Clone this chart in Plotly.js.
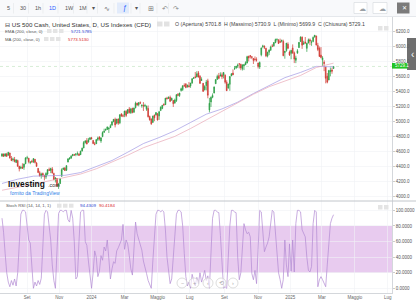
<!DOCTYPE html>
<html><head><meta charset="utf-8">
<script src="https://cdn.plot.ly/plotly-3.0.1.min.js"></script>
<style>html,body{margin:0;padding:0;background:#fff;overflow:hidden}#chart{width:416px;height:300px}</style>
</head><body><div id="chart"></div>
<script>
// ---- data (2-trading-day candles, US 500 Cash, Jul 2023 - Mar 2025) ----
const barOpen = [
4540,4566,4540,4568,4550,4579,4506,4492,4493,4455,
4479,4405,4378,4395,4390,4437,4515,4511,4452,4471,
4464,4497,4446,4375,4318,4276,4308,4282,4260,4300,
4360,4348,4368,4307,4220,4240,4140,4173,4270,4362,
4380,4350,4460,4500,4511,4542,4556,4560,4569,4565,
4557,4606,4647,4719,4743,4725,4758,4782,4745,4698,
4703,4759,4792,4739,4797,4856,4886,4892,4899,4916,
4950,4995,5026,4976,5031,4980,5100,5074,5085,5132,
5108,5164,5115,5175,5120,5181,5242,5220,5248,5205,
5211,5205,5160,5171,5064,5032,4987,5084,5085,5100,
5073,5143,5172,5226,5222,5310,5305,5319,5281,5278,
5243,5276,5358,5343,5410,5423,5477,5499,5461,5473,
5471,5507,5572,5591,5590,5644,5599,5543,5505,5419,
5476,5538,5152,5257,5319,5376,5500,5557,5605,5602,
5618,5612,5612,5520,5442,5492,5603,5641,5702,5711,
5733,5764,5758,5698,5737,5751,5775,5866,5875,5857,
5834,5826,5819,5775,5723,5884,5990,5998,5970,5867,
5919,5944,6000,6003,6044,6089,6083,6060,6063,6062,
5913,5940,6025,5920,5903,5975,5910,5810,5905,5980,
6060,6118,6026,6054,5970,6040,6083,6050,6062,6122,
6135,6009,5970,5881,5817,5785,5720,5600,5550,5660,
5682,5701.8];
const barHigh = [
4578,4572,4580,4582,4594,4584,4540,4520,4527,4492,
4491,4407,4411,4443,4440,4521,4542,4514,4473,4490,
4511,4498,4461,4381,4342,4318,4320,4290,4324,4366,
4386,4384,4393,4318,4260,4247,4183,4245,4376,4386,
4393,4418,4506,4521,4550,4568,4568,4575,4600,4580,
4610,4651,4739,4747,4778,4780,4790,4794,4754,4726,
4765,4798,4802,4785,4868,4903,4906,4932,4926,4962,
5000,5030,5049,5032,5039,5094,5104,5095,5140,5149,
5160,5190,5180,5179,5182,5262,5246,5257,5265,5228,
5256,5233,5211,5211,5077,5039,5075,5089,5123,5110,
5139,5200,5216,5239,5311,5326,5329,5342,5315,5280,
5302,5362,5376,5380,5448,5477,5505,5501,5490,5523,
5510,5570,5590,5655,5666,5669,5614,5585,5508,5480,
5550,5566,5312,5331,5371,5465,5563,5620,5643,5651,
5649,5656,5625,5546,5500,5600,5637,5690,5734,5735,
5767,5768,5765,5753,5762,5797,5871,5870,5878,5867,
5842,5862,5850,5779,5795,5983,6017,6009,5978,5925,
5955,6005,6026,6053,6099,6099,6088,6099,6086,6085,
5936,6040,6050,5941,5950,6022,5928,5872,5960,6052,
6129,6128,6070,6120,6042,6100,6101,6077,6127,6147,
6136,6043,5994,5987,5866,5812,5722,5642,5684,5715,
5712,5730.9];
const barLow = [
4527,4527,4531,4527,4545,4505,4474,4466,4455,4448,
4396,4335,4365,4368,4356,4432,4496,4442,4431,4450,
4446,4440,4399,4316,4268,4239,4260,4216,4235,4283,
4341,4312,4307,4220,4188,4131,4103,4168,4266,4355,
4340,4341,4455,4491,4505,4538,4540,4537,4546,4540,
4553,4600,4643,4705,4697,4716,4755,4759,4697,4682,
4699,4739,4745,4714,4790,4845,4871,4888,4845,4913,
4941,4989,4920,4961,4953,4963,5061,5055,5056,5057,
5098,5104,5098,5107,5118,5172,5203,5199,5229,5181,
5138,5189,5139,5052,5008,4953,4978,5002,5077,5011,
5019,5141,5161,5204,5218,5288,5298,5256,5276,5191,
5235,5257,5333,5325,5395,5403,5457,5441,5447,5451,
5445,5506,5563,5571,5584,5582,5497,5540,5390,5410,
5411,5306,5119,5191,5307,5373,5498,5556,5560,5598,
5561,5570,5500,5402,5434,5406,5602,5615,5682,5694,
5708,5703,5680,5675,5681,5752,5770,5796,5834,5826,
5762,5796,5793,5702,5696,5864,5971,5960,5853,5850,
5880,5940,5985,5991,6040,6061,6027,6044,6048,5865,
5832,5925,5960,5868,5825,5896,5774,5773,5902,5975,
6058,5962,6014,6030,5923,6036,6012,6003,6050,6111,
6008,5933,5858,5837,5733,5667,5505,5505,5546,5598,
5632,5699.9];
const barClose = [
4565,4536,4567,4537,4589,4513,4478,4499,4468,4489,
4404,4370,4388,4376,4433,4515,4516,4465,4457,4462,
4505,4454,4402,4320,4274,4300,4288,4263,4308,4358,
4349,4373,4314,4224,4248,4137,4166,4237,4358,4378,
4347,4411,4502,4514,4538,4559,4555,4568,4569,4549,
4604,4644,4719,4741,4698,4755,4781,4770,4705,4697,
4757,4780,4766,4781,4851,4869,4891,4925,4906,4943,
4995,5027,4953,5030,4976,5088,5070,5070,5137,5079,
5157,5117,5165,5117,5178,5241,5218,5248,5243,5211,
5204,5209,5199,5061,5022,4967,5070,5048,5116,5018,
5128,5187,5214,5221,5308,5303,5321,5267,5306,5235,
5283,5354,5347,5375,5434,5473,5473,5448,5477,5460,
5509,5567,5577,5584,5631,5589,5505,5555,5399,5464,
5522,5347,5240,5319,5344,5455,5554,5597,5571,5616,
5592,5648,5520,5408,5496,5596,5633,5618,5703,5732,
5745,5762,5709,5751,5751,5780,5859,5843,5864,5851,
5809,5823,5813,5728,5782,5973,6001,5985,5870,5917,
5948,5987,5999,6047,6086,6090,6034,6051,6074,5872,
5930,6040,5971,5882,5942,5909,5827,5842,5937,6049,
6119,6012,6039,6041,6038,6084,6066,6052,6115,6144,
6013,5955,5861,5849,5843,5770,5572,5521,5675,5676,
5667,5729.1];
const stochK = [
90,72,45,20,8,2,10,4,12,3,
20,60,95,100,100,98,75,62,58,20,
0,8,3,10,5,13,55,95,100,98,
80,62,30,10,0,55,96,100,100,98,
100,100,88,85,100,90,60,12,15,60,
98,100,100,60,55,35,18,0,20,48,
40,15,22,42,36,53,48,62,38,12,
25,34,32,48,52,58,62,82,50,62,
57,42,25,17,55,85,70,62,55,49,
35,28,19,10,4,0,35,70,95,100,
100,98,100,98,75,40,20,6,12,40,
70,95,100,100,98,80,45,15,3,8,
0,18,10,3,14,6,20,8,15,23,
10,16,0,45,90,100,100,98,97,68,
30,0,2,0,40,80,100,100,98,97,
40,11,20,60,83,75,70,72,66,19,
11,23,6,50,100,98,75,47,53,58,
66,85,100,98,74,40,20,11,0,11,
62,30,15,57,22,62,21,83,100,100,
98,75,70,66,40,23,21,28,83,100,
98,2,11,15,11,5,2,30,53,83,
90,94.43];
const maIdx   = [0,10,20,30,40,50,60,70,80,90,100,110,120,130,140,150,160,170,180,190,200,210,211];
const emaVals = [4175,4232,4272,4282,4283,4320,4395,4480,4590,4705,4785,4875,4985,5095,5165,5255,5370,5475,5580,5650,5730,5725,5721.58];
const smaVals = [4085,4120,4165,4210,4255,4300,4370,4455,4550,4650,4720,4800,4905,5020,5130,5240,5360,5460,5540,5610,5715,5770,5773.51];
const priceTicks = [4000,4200,4400,4600,4800,5000,5200,5400,5600,5800,6000,6200];
const stochTicks = [0,20,40,60,80,100];
const monthTickPos  = [16,36.5,57,78,99,119.5,141.5,163,183.5,203.5,224.5,245.5];
const monthTickText = ['Set','Nov','2024','Mar','Maggio','Lug','Set','Nov','2025','Mar','Maggio','Lug'];
const lastPrice = 5729.1;

// ---- helpers: pixel -> paper (plot area x 0..392, y 17..293) ----
const PX = v => v/392;
const PY = v => (293 - v)/276;
const F = 'Liberation Sans, Arial, sans-serif';
const barIdx = barClose.map((_, i) => i);

const ann = [];
function txt(t, x, y, size, color, o) {
  ann.push(Object.assign({text:t, xref:'paper', yref:'paper', x:PX(x), y:PY(y), xanchor:'left', yanchor:'middle',
    showarrow:false, font:{size:size, color:color, family:F}}, o||{}));
}
const shp = [];
function rect(x0,y0,x1,y1,fill,line,lw,extra){
  shp.push(Object.assign({type:'rect', xref:'paper', yref:'paper', x0:PX(x0), x1:PX(x1), y0:PY(y1), y1:PY(y0),
    fillcolor:fill, line:{color:line||fill, width:lw===undefined?0:lw}, layer:'above'}, extra||{}));
}
function hline(x0,x1,y,color,w){
  shp.push({type:'line', xref:'paper', yref:'paper', x0:PX(x0), x1:PX(x1), y0:PY(y), y1:PY(y), line:{color:color,width:w}, layer:'above'});
}
function vline(x,y0,y1,color,w){
  shp.push({type:'line', xref:'paper', yref:'paper', x0:PX(x), x1:PX(x), y0:PY(y0), y1:PY(y1), line:{color:color,width:w}, layer:'above'});
}

// stoch band
shp.push({type:'rect', xref:'paper', yref:'y2', x0:0, x1:1, y0:20, y1:80, fillcolor:'#e8cbef', line:{width:0}, layer:'below'});
// last-price dotted line
shp.push({type:'line', xref:'paper', yref:'y', x0:0, x1:1, y0:lastPrice, y1:lastPrice, line:{color:'rgba(40,160,40,0.3)', width:0.6, dash:'dot'}, layer:'below'});

// toolbar
rect(0,0,416,16.5,'#f8f9fb');
hline(0,416,16.5,'#dfe2e7',0.8);
[13.5,28.5,43,58,73.5,87,97.5,114,131,140,157,168.5].forEach(x=>vline(x,3,13.5,'#e4e6ea',0.6));
rect(117,2.5,129,13.5,'#e2ebfb');
[['5',5],['30',18],['1h',32.5],['1D',47],['1W',62.5],['1M',76.5],['▾',90]].forEach(b=>{
  txt(b[0], b[1], 8.5, 5.5, b[0]==='1D' ? '#2962ff' : '#555');
});
txt('∿',102,8.5,7,'#666'); txt('ƒ',121,8.5,7,'#2962ff'); txt('▾',132.5,8.5,5.5,'#555');
txt('⊞',145.5,8.5,6.5,'#777'); txt('↶',160,8.5,6.5,'#888'); txt('↷',170.5,8.5,6.5,'#888');
rect(354,2.5,367,13.5,'#ffffff','#d4d7db',0.6); rect(373,2.5,387,13.5,'#ffffff','#d4d7db',0.6);
txt('☁',357,8.2,7,'#9aa0a6'); txt('☁',376.5,8.2,7,'#9aa0a6');
rect(397,2.5,409.5,13.5,'#7b7b7b');
txt('✕',400.2,8.2,6,'#ffffff');

// header / legends
txt('⊟ US 500 Cash, United States, D, US Indexes (CFD)',3,24,6.2,'#333');
rect(157,21.5,162.5,26.5,'#e2e2e2'); rect(164,21.5,169.5,26.5,'#e2e2e2');
txt('O (Apertura) 5701.8  H (Massimo) 5730.9  L (Minimo) 5699.9  C (Chiusura) 5729.1',173,24,5.2,'#444');
rect(378,26,382.5,30.5,'#e4e4e4'); rect(384,26,388.5,30.5,'#e4e4e4');
txt('EMA (200, close, 0)',3,31,4.3,'#555');
rect(47,29,51.5,33,'#e4e4e4'); rect(53,29,57.5,33,'#e4e4e4'); rect(59,29,63.5,33,'#e4e4e4');
txt('5721.5785',69,31,4.4,'#2b3fd1');
txt('MA (200, close, 0)',3,39,4.3,'#555');
rect(44,37,48.5,41,'#e4e4e4'); rect(50,37,54.5,41,'#e4e4e4'); rect(56,37,60.5,41,'#e4e4e4');
txt('5773.5130',66,39,4.4,'#d9262c');

// right tab and price tag
rect(407,38,416,70,'rgba(95,95,95,0.9)');
txt('‹',409,54,10,'#ffffff');
rect(392,63,407.5,68.6,'#22c322');
txt(lastPrice.toFixed(1),393,65.9,4.5,'#ffffff');

// logo
txt('<b>Investing</b>',5.5,183.5,8.4,'#111');
txt('.com',45.5,185.4,5.4,'#333');
txt('fornito da TradingView',8,192.8,5,'#2f7fe8');

// panel separator
hline(0,416,201,'#c2c6cb',1);

// stoch legend
txt('Stoch RSI (14, 14, 1, 1)',4,205.7,4.3,'#555');
rect(57,203.7,61.5,207.7,'#e4e4e4'); rect(63,203.7,67.5,207.7,'#e4e4e4'); rect(69,203.7,73.5,207.7,'#e4e4e4');
txt('94.4309',78,205.7,4.4,'#2b3fd1');
txt('90.4184',97,205.7,4.4,'#d9262c');
rect(378,205,382.5,209.5,'#e4e4e4'); rect(384,205,388.5,209.5,'#e4e4e4');

// navigation circles
[[182,'−'],[194,'+'],[208,'‹'],[221,'⟲'],[233,'›']].forEach(c=>{
  shp.push({type:'circle', xref:'paper', yref:'paper', x0:PX(c[0]-5), x1:PX(c[0]+5), y0:PY(288), y1:PY(278),
    fillcolor:'rgba(255,255,255,0.6)', line:{color:'#cfcfcf', width:0.7}, layer:'above'});
  ann.push({text:c[1], xref:'paper', yref:'paper', x:PX(c[0]), y:PY(283), xanchor:'center', yanchor:'middle', showarrow:false, font:{size:5.5,color:'#aaa',family:F}});
});

const traces = [
  {type:'scatter', mode:'lines', x:maIdx, y:emaVals, xaxis:'x', yaxis:'y', line:{color:'#a29ae4', width:0.7}, hoverinfo:'skip'},
  {type:'scatter', mode:'lines', x:maIdx, y:smaVals, xaxis:'x', yaxis:'y', line:{color:'#e8a8b6', width:0.7}, hoverinfo:'skip'},
  {type:'candlestick', x:barIdx, open:barOpen, high:barHigh, low:barLow, close:barClose, xaxis:'x', yaxis:'y',
    increasing:{line:{color:'#2a9e44', width:0.7}, fillcolor:'#2a9e44'},
    decreasing:{line:{color:'#d03a32', width:0.7}, fillcolor:'#d03a32'}, whiskerwidth:0},
  {type:'scatter', mode:'lines', x:barIdx, y:stochK, xaxis:'x', yaxis:'y2', line:{color:'#b28ad3', width:0.7}, hoverinfo:'skip'}
];

const layout = {
  width:416, height:300,
  margin:{l:0, r:24, t:17, b:7, pad:0},
  paper_bgcolor:'#ffffff', plot_bgcolor:'#ffffff',
  showlegend:false,
  font:{family:F},
  xaxis:{range:[-1.27,248.2], anchor:'y2', tickmode:'array', tickvals:monthTickPos, ticktext:monthTickText,
    showgrid:true, gridcolor:'#f0f2f5', gridwidth:0.6, tickfont:{size:4.5, color:'#666'}, ticks:'',
    showline:true, linecolor:'#c9cdd2', linewidth:0.8, zeroline:false, rangeslider:{visible:false}, fixedrange:true},
  yaxis:{domain:[0.3333,1], range:[3942,6386], side:'right', tickmode:'array', tickvals:priceTicks, tickformat:'.1f',
    tickfont:{size:4.5, color:'#555'}, ticks:'outside', ticklen:2, tickwidth:0.5, tickcolor:'#999',
    showgrid:true, gridcolor:'#f0f2f5', gridwidth:0.6, showline:true, linecolor:'#c9cdd2', linewidth:0.8, zeroline:false, fixedrange:true},
  yaxis2:{domain:[0,0.3333], range:[-6,112], side:'right', anchor:'x', tickmode:'array', tickvals:stochTicks, tickformat:'.4f',
    tickfont:{size:4.5, color:'#555'}, ticks:'outside', ticklen:2, tickwidth:0.5, tickcolor:'#999',
    showgrid:true, gridcolor:'#f0f2f5', gridwidth:0.6, showline:true, linecolor:'#c9cdd2', linewidth:0.8, zeroline:false, fixedrange:true},
  shapes:shp,
  annotations:ann
};

Plotly.newPlot('chart', traces, layout, {staticPlot:true, displayModeBar:false});
</script>
</body></html>
